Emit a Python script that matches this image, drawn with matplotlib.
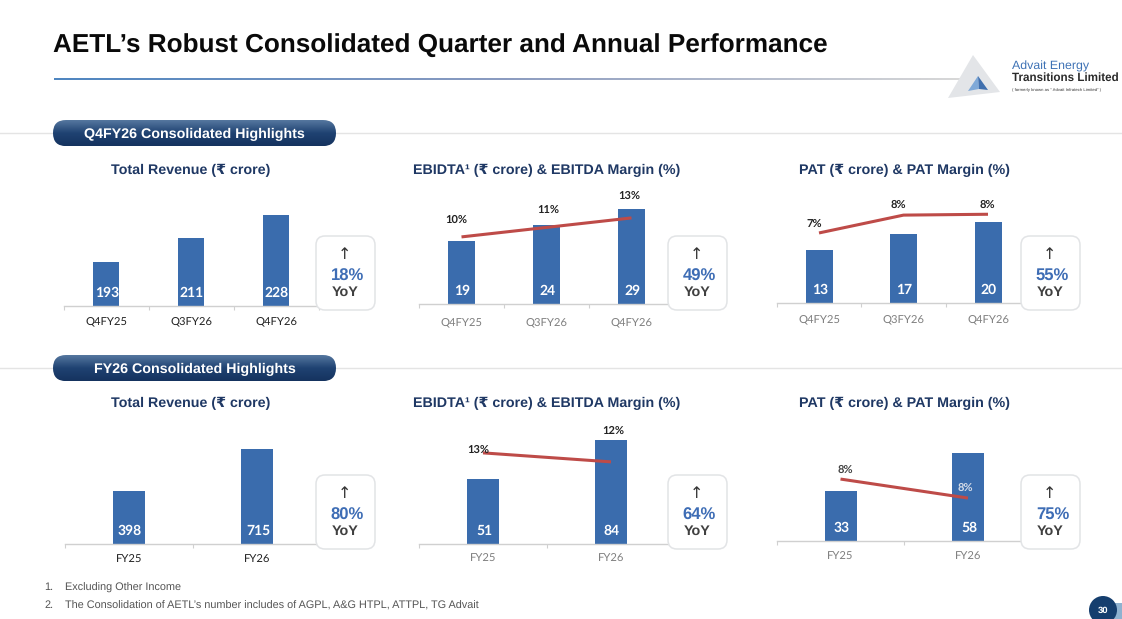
import matplotlib
matplotlib.use("Agg")
import matplotlib.pyplot as plt
import numpy as np
from matplotlib.patches import Circle, FancyBboxPatch, Polygon, Rectangle

plt.rcParams["text.hinting"] = "none"

W, H = 1122, 619
SANS = ["Liberation Sans", "DejaVu Sans"]
LABEL = ["Lato", "DejaVu Sans"]
NAVY = "#1F3864"
BAR = "#3A6CAD"
RED = "#BE4B48"

# data
quarters = ["Q4FY25", "Q3FY26", "Q4FY26"]
years = ["FY25", "FY26"]

q_revenue = [193, 211, 228]
q_ebitda = [19, 24, 29]
q_ebitda_margin = [9.8, 11.3, 12.8]
q_ebitda_margin_labels = ["10%", "11%", "13%"]
q_pat = [13, 17, 20]
q_pat_margin = [7.2, 8.25, 8.3]
q_pat_margin_labels = ["7%", "8%", "8%"]

fy_revenue = [398, 715]
fy_ebitda = [51, 84]
fy_ebitda_margin = [13.0, 12.2]
fy_ebitda_margin_labels = ["13%", "12%"]
fy_pat = [33, 58]
fy_pat_margin = [8.4, 7.9]
fy_pat_margin_labels = ["8%", "8%"]


def px_axes(fig, left, right, top, bottom):
    return fig.add_axes([left / W, 1 - bottom / H, (right - left) / W, (bottom - top) / H])


def draw_panel(fig, cats, values, first_x, step, baseline, bar_w, ybase, yscale, tick_color, tick_pad,
               margin=None, margin_labels=None, mbase=0, mscale=1, label_xy=None, label_colors=None,
               value_size=10):
    n = len(cats)
    left = first_x - step / 2
    right = left + step * n
    top = 175
    if baseline > 400:
        top = 415
    ax = px_axes(fig, left, right, top, baseline)
    ax.patch.set_alpha(0)
    x = np.arange(n)
    ax.bar(x, np.array(values) - ybase, bottom=ybase, width=bar_w / step, color=BAR, linewidth=0)
    ax.set_xlim(-0.5, n - 0.5)
    ax.set_ylim(ybase, ybase + (baseline - top) / yscale)
    for s in ["top", "left", "right"]:
        ax.spines[s].set_visible(False)
    ax.spines["bottom"].set_color("#D0D0D0")
    ax.spines["bottom"].set_linewidth(1.0)
    ax.set_yticks([])
    ax.set_xticks(x)
    ax.set_xticklabels(cats, family=LABEL, fontsize=8.1, color=tick_color)
    ax.tick_params(axis="x", which="major", length=0, pad=tick_pad)
    ax.set_xticks(np.arange(n + 1) - 0.5, minor=True)
    ax.tick_params(axis="x", which="minor", length=3, width=0.8, color="#D0D0D0")
    for i, v in enumerate(values):
        ax.annotate(str(v), (i, ybase), xytext=(1, 13.5), textcoords="offset pixels", ha="center", va="center",
                    color="white", fontsize=value_size, weight="bold", family=LABEL)
    if margin is None:
        return ax
    ax2 = ax.twinx()
    ax2.patch.set_alpha(0)
    ax2.plot(x, margin, color=RED, linewidth=2.2, solid_capstyle="butt")
    ax2.set_ylim(mbase, mbase + (baseline - top) / mscale)
    ax2.set_yticks([])
    for s in ax2.spines.values():
        s.set_visible(False)
    for i, lab in enumerate(margin_labels):
        ax2.annotate(lab, (i, margin[i]), xytext=label_xy[i], textcoords="offset pixels", ha="center", va="center",
                     color=label_colors[i] if label_colors else "#222222", fontsize=8, weight="bold", family=LABEL)
    return ax2


def yoy_box(ov, left, top, pct):
    ov.add_patch(FancyBboxPatch((left + 8, top + 8), 43, 58, boxstyle="round,pad=8,rounding_size=9",
                                facecolor="white", edgecolor="#E2E4E6", linewidth=1.1))
    ov.text(left + 28.5, top + 19, "↑", ha="center", va="center", fontsize=11.5, color="#333333", family=["DejaVu Sans"])
    ov.text(left + 31.5, top + 40.5, pct, ha="center", va="center", fontsize=12, weight="bold", color="#3E6DB5", family=SANS)
    ov.text(left + 29, top + 56.5, "YoY", ha="center", va="center", fontsize=10.4, weight="bold", color="#404040", family=SANS)


def pill(ov, left, top, text):
    patch = FancyBboxPatch((left + 13, top + 13), 283 - 26, 0.1, boxstyle="round,pad=13,rounding_size=13",
                           facecolor="none", edgecolor="none")
    ov.add_patch(patch)
    grad = np.linspace(0, 1, 64).reshape(-1, 1)
    cmap = matplotlib.colors.LinearSegmentedColormap.from_list("pill", ["#55779F", "#1F4272", "#15335F"])
    img = ov.imshow(grad, extent=(left, left + 283, top + 26, top), cmap=cmap, aspect="auto", zorder=2)
    img.set_clip_path(patch)
    ov.text(left + 141.5, top + 14, text, ha="center", va="center", color="white", fontsize=10.25,
            weight="bold", family=SANS, zorder=3)


fig = plt.figure(figsize=(W / 100, H / 100), dpi=100, facecolor="white")
ov = fig.add_axes([0, 0, 1, 1])
ov.set_zorder(5)
ov.set_xlim(0, W)
ov.set_ylim(H, 0)
ov.axis("off")

ov.text(53, 45.5, "AETL’s Robust Consolidated Quarter and Annual Performance", fontsize=18.85, weight="bold",
        color="#0A0A0A", ha="left", va="center", family=SANS)

# header rule fading to grey
rule = np.linspace(0, 1, 256).reshape(1, -1)
rule_cmap = matplotlib.colors.LinearSegmentedColormap.from_list("rule", ["#4F86C0", "#8C9CC0", "#D8D8D8"])
ov.imshow(rule, extent=(54, 960, 80.5, 79), cmap=rule_cmap, aspect="auto")

# logo
ov.add_patch(Polygon([[973, 55], [948, 98], [1000, 92]], closed=True, facecolor="#E3E5E8", edgecolor="none"))
ov.add_patch(Polygon([[978, 76], [968, 91], [979, 89]], closed=True, facecolor="#7FA9D8", edgecolor="none"))
ov.add_patch(Polygon([[978, 76], [988, 90], [979, 89]], closed=True, facecolor="#3F6FAE", edgecolor="none"))
ov.text(1012, 66, "Advait Energy", fontsize=8.95, color="#3E72B5", ha="left", va="center", family=SANS)
ov.text(1012, 78, "Transitions Limited", fontsize=8.35, weight="bold", color="#2A2A2A", ha="left", va="center", family=SANS)
ov.text(1012, 90, "( formerly known as “ Advait Infratech Limited” )", fontsize=3.1, color="#333333", ha="left",
        va="center", family=SANS)

for y in (133, 367.5):
    ov.plot([0, W], [y, y], color="#E4E4E4", linewidth=1.0, zorder=1)
pill(ov, 53, 120, "Q4FY26 Consolidated Highlights")
pill(ov, 53, 355, "FY26 Consolidated Highlights")

titles = [
    (191, 170, "Total Revenue (₹ crore)"), (546.5, 170, "EBIDTA¹ (₹ crore) & EBITDA Margin (%)"),
    (904, 170, "PAT (₹ crore) & PAT Margin (%)"), (191, 403, "Total Revenue (₹ crore)"),
    (546.5, 403, "EBIDTA¹ (₹ crore) & EBITDA Margin (%)"), (904, 403, "PAT (₹ crore) & PAT Margin (%)"),
]
for x, y, t in titles:
    ov.text(x, y, t, ha="center", va="center", fontsize=10.3, weight="bold", color=NAVY, family=SANS)

for left, top, pct in [(316, 236, "18%"), (668, 236, "49%"), (1021, 236, "55%"),
                       (316, 475, "80%"), (668, 475, "64%"), (1021, 475, "75%")]:
    yoy_box(ov, left, top, pct)

ov.text(44, 587.5, "1.", fontsize=7.8, color="#555555", va="center", family=SANS)
ov.text(65, 587.5, "Excluding Other Income", fontsize=7.8, color="#555555", va="center", family=SANS)
ov.text(44, 605.5, "2.", fontsize=7.8, color="#555555", va="center", family=SANS)
ov.text(65, 605.5, "The Consolidation of AETL’s number includes of AGPL, A&G HTPL, ATTPL, TG Advait", fontsize=7.8,
        color="#555555", va="center", family=SANS)

ov.add_patch(Rectangle((1114, 603), 8, 16, facecolor="#8FB2D0", edgecolor="none"))
ov.add_patch(Circle((1103, 610), 14, facecolor="#153E6E", edgecolor="none", zorder=3))
ov.text(1103, 611, "30", ha="center", va="center", color="white", fontsize=6.8, weight="bold", family=SANS, zorder=4)

draw_panel(fig, quarters, q_revenue, 106, 85, 306, 26.5, 160, 1.34, "#222222", 8)
draw_panel(fig, quarters, q_ebitda, 461.5, 85, 304, 27, -0.7, 3.2, "#7F7F7F", 10,
           q_ebitda_margin, q_ebitda_margin_labels, -0.8, 6.33,
           [(-5, 17), (2, 18), (-2, 22)])
draw_panel(fig, quarters, q_pat, 819, 84.5, 303, 27, 0, 4.05, "#7F7F7F", 9,
           q_pat_margin, q_pat_margin_labels, 3.08, 17,
           [(-5, 9), (-5, 10), (-1, 10)])
draw_panel(fig, years, fy_revenue, 129, 128, 544, 32, 0, 0.1325, "#222222", 8)
draw_panel(fig, years, fy_ebitda, 483, 128, 544, 32, -4, 1.18, "#7F7F7F", 7,
           fy_ebitda_margin, fy_ebitda_margin_labels, 4.9, 11.25,
           [(-5, 3), (2, 31)])
draw_panel(fig, years, fy_pat, 840.5, 127.5, 541, 32, 0, 1.51, "#7F7F7F", 8,
           fy_pat_margin, fy_pat_margin_labels, 6.77, 38,
           [(5, 9), (-3, 10)], ["#444444", "#D5DCE8"])

fig.savefig("out.png", dpi=100, facecolor="white")
